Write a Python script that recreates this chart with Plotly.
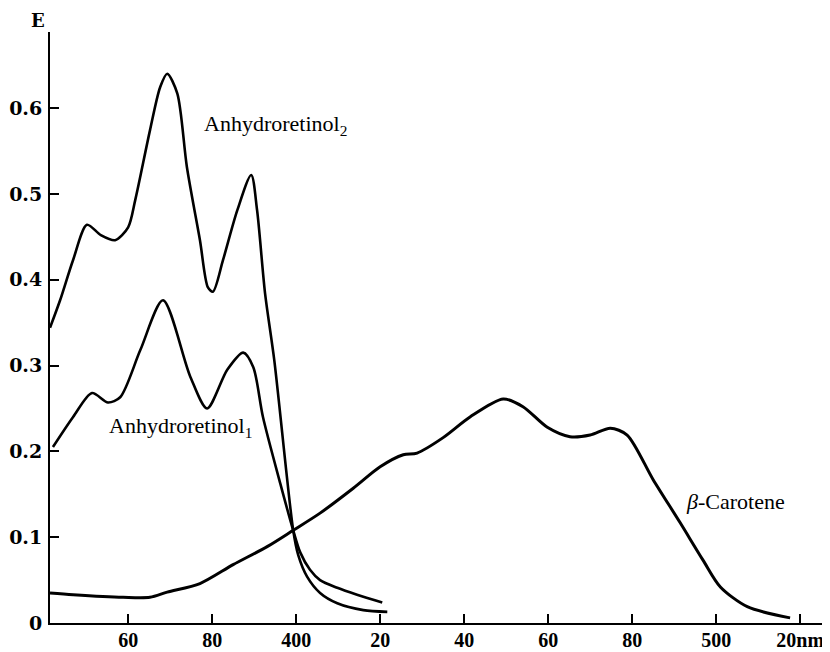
import plotly.graph_objects as go

# Wavelength (nm) and extinction E
a2_wl = [341.4, 343.8, 346.9, 350.2, 353.5, 356.9, 360.0, 361.7, 365.2, 367.6, 369.3, 371.7, 374.0, 377.1,
         379.0, 380.2, 382.6, 386.0, 389.3, 390.7, 392.6, 394.8, 399.3, 400.5, 402.6, 405.7, 409.8, 416.0, 421.7]
a2_e = [0.344, 0.376, 0.423, 0.464, 0.452, 0.446, 0.461, 0.493, 0.574, 0.624, 0.640, 0.617, 0.531, 0.446,
        0.391, 0.386, 0.423, 0.481, 0.522, 0.481, 0.384, 0.306, 0.108, 0.079, 0.054, 0.035, 0.023, 0.015, 0.013]

a1_wl = [342.1, 346.9, 351.4, 355.2, 358.1, 362.9, 368.3, 374.8, 378.8, 383.6, 387.4, 389.8, 392.1, 396.2,
         399.3, 401.0, 403.3, 405.7, 409.8, 414.5, 420.5]
a1_e = [0.205, 0.240, 0.268, 0.257, 0.263, 0.318, 0.376, 0.287, 0.250, 0.295, 0.315, 0.298, 0.240, 0.163,
        0.108, 0.082, 0.062, 0.050, 0.041, 0.033, 0.024]

bc_wl = [341.4, 346.9, 358.8, 365.2, 369.3, 377.1, 385.0, 393.1, 399.3, 405.7, 413.6, 420.0, 425.5,
         428.8, 435.0, 441.4, 449.3, 454.0, 459.8, 465.2, 470.0, 474.8, 478.8, 485.0, 491.4, 496.9, 501.0,
         507.4, 517.6]
bc_e = [0.035, 0.033, 0.030, 0.030, 0.036, 0.046, 0.068, 0.089, 0.108, 0.128, 0.157, 0.182, 0.196,
        0.198, 0.216, 0.240, 0.261, 0.252, 0.228, 0.217, 0.219, 0.227, 0.219, 0.167, 0.117, 0.073, 0.042,
        0.019, 0.006]

x_tickvals = [360, 380, 400, 420, 440, 460, 480, 500, 520]
x_ticktext = ["60", "80", "400", "20", "40", "60", "80", "500", "20nm"]
y_tickvals = [0, 0.1, 0.2, 0.3, 0.4, 0.5, 0.6]
y_ticktext = ["0", "0.1", "0.2", "0.3", "0.4", "0.5", "0.6"]

serif = "Liberation Serif"
yserif = "DejaVu Serif"

fig = go.Figure()
for wl, e, w in [(a2_wl, a2_e, 2.6), (a1_wl, a1_e, 2.6), (bc_wl, bc_e, 3)]:
    fig.add_trace(go.Scatter(x=wl, y=e, mode="lines",
                             line=dict(color="black", width=w, shape="spline", smoothing=0.8),
                             showlegend=False, hoverinfo="skip"))

fig.add_annotation(x=395.1, y=0.58, text="Anhydroretinol<sub>2</sub>", showarrow=False,
                   xref="x", yref="y", xanchor="center", yanchor="middle",
                   font=dict(family=serif, size=22, color="black"))
fig.add_annotation(x=372.5, y=0.228, text="Anhydroretinol<sub>1</sub>", showarrow=False,
                   xref="x", yref="y", xanchor="center", yanchor="middle",
                   font=dict(family=serif, size=22, color="black"))
fig.add_annotation(x=504.7, y=0.141, text="<i>β</i>-Carotene", showarrow=False,
                   xref="x", yref="y", xanchor="center", yanchor="middle",
                   font=dict(family=serif, size=22, color="black"))
fig.add_annotation(x=-0.015, y=1.02, text="E", showarrow=False,
                   xref="paper", yref="paper", xanchor="center", yanchor="middle",
                   font=dict(family=yserif, size=18, color="black", weight="bold"))

fig.update_xaxes(range=[341.4, 527.1], tickvals=x_tickvals, ticktext=x_ticktext,
                 ticks="inside", ticklen=9, tickwidth=1.5, tickcolor="black",
                 showline=True, linecolor="black", linewidth=2, showgrid=False, zeroline=False,
                 tickfont=dict(family=serif, size=20, color="black", weight="bold"),
                 ticklabelstandoff=-2, automargin=False)
fig.update_yaxes(range=[0, 0.6886], tickvals=y_tickvals, ticktext=y_ticktext,
                 ticks="inside", ticklen=9, tickwidth=1.5, tickcolor="black",
                 showline=True, linecolor="black", linewidth=2, showgrid=False, zeroline=False,
                 tickfont=dict(family=yserif, size=19, color="black", weight="bold"),
                 ticklabelstandoff=2, automargin=False)

# page body adds an 8px offset, so the figure is sized to fill the window from there
fig.update_layout(width=822, height=644, margin=dict(l=42, r=0, t=24, b=29),
                  paper_bgcolor="white", plot_bgcolor="white", template="none")

fig.write_html("out.html")
